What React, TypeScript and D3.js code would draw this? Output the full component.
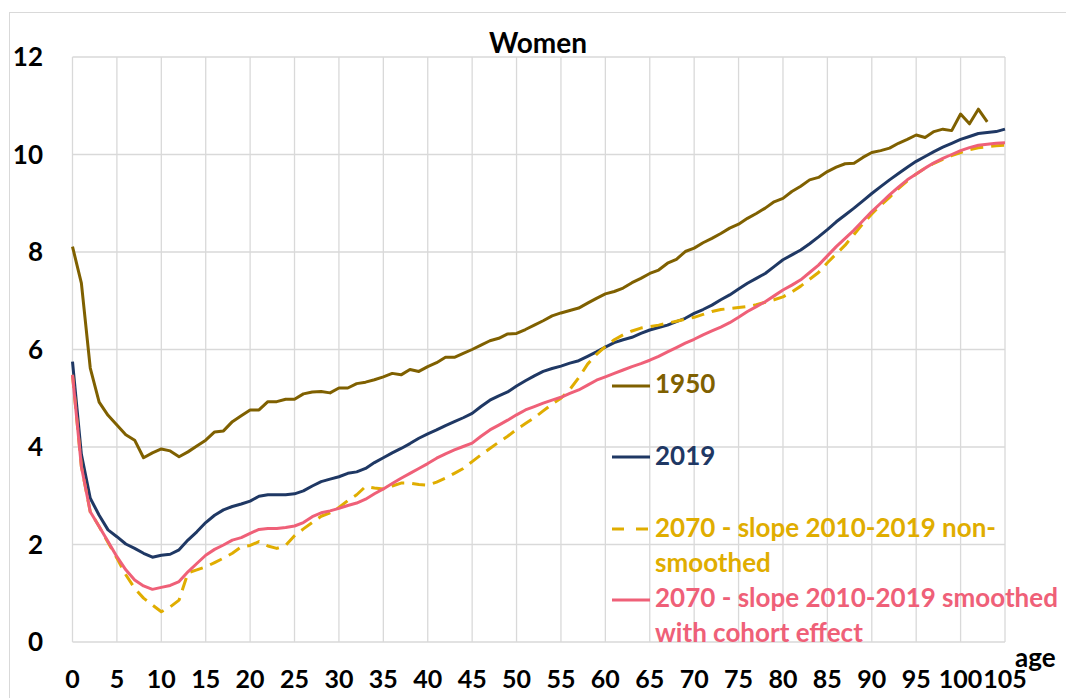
import * as d3 from "d3";

// ages 0..105
const ages = d3.range(0, 106);

const y1950 = [
  8.11, 7.36, 5.62, 4.92, 4.65, 4.45, 4.25, 4.14, 3.78, 3.88, 3.96, 3.92, 3.8, 3.9, 4.02, 4.14, 4.31, 4.33, 4.52, 4.64,
  4.76, 4.76, 4.93, 4.93, 4.98, 4.98, 5.09, 5.13, 5.14, 5.11, 5.21, 5.21, 5.3, 5.33, 5.38, 5.44, 5.51, 5.48, 5.59, 5.55,
  5.65, 5.73, 5.84, 5.84, 5.92, 6.0, 6.09, 6.18, 6.23, 6.32, 6.33, 6.41, 6.5, 6.59, 6.69, 6.75, 6.8, 6.85, 6.95, 7.05,
  7.14, 7.19, 7.26, 7.37, 7.46, 7.56, 7.63, 7.77, 7.85, 8.01, 8.08, 8.19, 8.28, 8.38, 8.49, 8.57, 8.69, 8.79, 8.9, 9.03,
  9.1, 9.24, 9.35, 9.48, 9.53, 9.65, 9.74, 9.81, 9.82, 9.94, 10.04, 10.08, 10.13, 10.23, 10.31, 10.4, 10.35, 10.47, 10.52, 10.49,
  10.83, 10.63, 10.93, 10.67,
];

const y2019 = [
  5.75, 3.85, 2.95, 2.6, 2.3, 2.16, 2.01, 1.92, 1.82, 1.74, 1.78, 1.8, 1.89, 2.09, 2.26, 2.45, 2.6, 2.71, 2.78, 2.83,
  2.89, 2.99, 3.02, 3.02, 3.02, 3.04, 3.1, 3.2, 3.29, 3.34, 3.39, 3.46, 3.49, 3.56, 3.68, 3.78, 3.88, 3.97, 4.07, 4.18,
  4.27, 4.35, 4.44, 4.52, 4.6, 4.69, 4.83, 4.96, 5.05, 5.13, 5.25, 5.36, 5.46, 5.55, 5.61, 5.66, 5.72, 5.77, 5.86, 5.95,
  6.05, 6.14, 6.2, 6.25, 6.33, 6.4, 6.45, 6.5, 6.57, 6.64, 6.74, 6.82, 6.91, 7.02, 7.12, 7.24, 7.36, 7.46, 7.56, 7.7,
  7.84, 7.94, 8.04, 8.17, 8.31, 8.46, 8.62, 8.76, 8.9, 9.05, 9.2, 9.34, 9.48, 9.61, 9.74, 9.86, 9.96, 10.06, 10.15, 10.23,
  10.31, 10.37, 10.43, 10.45, 10.47, 10.52,
];

const y2070raw = [
  5.48, 3.6, 2.67, 2.37, 2.04, 1.72, 1.38, 1.1, 0.9, 0.76, 0.62, 0.72, 0.86, 1.42, 1.48, 1.54, 1.63, 1.72, 1.82, 1.95,
  1.98, 2.06, 1.97, 1.92, 1.98, 2.18, 2.32, 2.45, 2.58, 2.65, 2.76, 2.9, 3.02, 3.19, 3.16, 3.14, 3.2, 3.26, 3.26, 3.23,
  3.22, 3.28, 3.36, 3.46, 3.56, 3.7, 3.84, 3.97, 4.1, 4.22, 4.36, 4.48, 4.6, 4.74, 4.88, 5.0, 5.18, 5.42, 5.7, 5.9,
  6.06, 6.2, 6.3, 6.38, 6.44, 6.47, 6.5, 6.54, 6.58, 6.62, 6.66, 6.72, 6.78, 6.82, 6.84, 6.86, 6.88, 6.92, 6.97, 7.02,
  7.08, 7.18, 7.3, 7.44, 7.58, 7.78, 7.96, 8.14, 8.36, 8.58, 8.78, 8.96, 9.12, 9.3, 9.46, 9.6, 9.72, 9.82, 9.9, 9.98,
  10.04, 10.1, 10.14, 10.16, 10.18, 10.19,
];

const y2070smooth = [
  5.48, 3.6, 2.67, 2.37, 2.06, 1.75, 1.48, 1.27, 1.15, 1.08, 1.12, 1.16, 1.24, 1.44, 1.61, 1.78, 1.9, 1.99, 2.09, 2.14,
  2.23, 2.31, 2.33, 2.33, 2.35, 2.38, 2.45, 2.57, 2.65, 2.69, 2.74, 2.8, 2.85, 2.93, 3.04, 3.14, 3.25, 3.36, 3.46, 3.56,
  3.66, 3.77, 3.86, 3.94, 4.01, 4.08, 4.22, 4.35, 4.45, 4.55, 4.66, 4.76, 4.83, 4.9, 4.96, 5.02, 5.1, 5.17, 5.27, 5.37,
  5.44, 5.51, 5.58, 5.65, 5.71, 5.78, 5.86, 5.95, 6.04, 6.13, 6.21, 6.3, 6.38, 6.46, 6.55, 6.66, 6.78, 6.88, 6.98, 7.1,
  7.22, 7.32, 7.43, 7.58, 7.73, 7.92, 8.11, 8.28, 8.45, 8.64, 8.83, 9.0, 9.17, 9.33, 9.48, 9.6, 9.72, 9.83, 9.92, 10.0,
  10.08, 10.14, 10.19, 10.21, 10.23, 10.24,
];

const xTicks = d3.range(0, 106, 5);
const yTicks = [0, 2, 4, 6, 8, 10, 12];

const series = [
  { name: "1950", values: y1950, color: "#7f6000", dash: null as string | null },
  { name: "2019", values: y2019, color: "#1f3864", dash: null },
  { name: "2070 raw", values: y2070raw, color: "#e0ad00", dash: "13,8" },
  { name: "2070 smooth", values: y2070smooth, color: "#ef6078", dash: null },
];

const FONT = "Lato, 'Open Sans', sans-serif";

export default function App() {
  const width = 1066;
  const height = 698;
  const x = d3.scaleLinear().domain([0, 105]).range([72.5, 1005]);
  const y = d3.scaleLinear().domain([0, 12]).range([642, 57]);

  const line = d3
    .line<number>()
    .x((_, i) => x(ages[i]))
    .y((d) => y(d));

  const legend = [
    { color: "#7f6000", dash: null as string | null, ly: 386, lines: ["1950"], base: 393 },
    { color: "#1f3864", dash: null, ly: 457, lines: ["2019"], base: 465 },
    { color: "#e0ad00", dash: "12,12", ly: 529, lines: ["2070 - slope 2010-2019 non-", "smoothed"], base: 537 },
    { color: "#ef6078", dash: null, ly: 600, lines: ["2070 - slope 2010-2019 smoothed", "with cohort effect"], base: 607 },
  ];

  return (
    <div style={{ position: "absolute", left: 0, top: 0 }}>
      <svg width={width} height={height} style={{ display: "block", background: "#fff" }}>
        <rect x={9.5} y={12.5} width={1070} height={700} fill="#fff" stroke="#d9d9d9" />

        {/* grid */}
        <g stroke="#d9d9d9" strokeWidth={1.3}>
          {xTicks.map((t) => (
            <line key={"gx" + t} x1={x(t)} x2={x(t)} y1={y(12)} y2={y(0)} />
          ))}
          {yTicks.map((t) => (
            <line key={"gy" + t} x1={x(0)} x2={x(105)} y1={y(t)} y2={y(t)} />
          ))}
        </g>

        {/* title */}
        <text x={538} y={53} textAnchor="middle" fontFamily={FONT} fontWeight={700} fontSize={28} fill="#000">
          Women
        </text>

        {/* y axis labels */}
        {yTicks.map((t) => (
          <text key={"yl" + t} x={43} y={y(t) + 9} textAnchor="end" fontFamily={FONT} fontWeight={700} fontSize={26} fill="#000">
            {t}
          </text>
        ))}

        {/* x axis labels */}
        {xTicks.map((t) => (
          <text key={"xl" + t} x={x(t)} y={688} textAnchor="middle" fontFamily={FONT} fontWeight={700} fontSize={25} fill="#000">
            {t}
          </text>
        ))}
        <text x={1015} y={667} fontFamily={FONT} fontWeight={700} fontSize={26} fill="#000">
          age
        </text>

        {/* series */}
        {series.map((s) => (
          <path
            key={s.name}
            d={line(s.values) || ""}
            fill="none"
            stroke={s.color}
            strokeWidth={3}
            strokeDasharray={s.dash || undefined}
            strokeLinejoin="round"
          />
        ))}

        {/* legend */}
        {legend.map((l, i) => (
          <g key={"lg" + i}>
            <line x1={612} x2={650} y1={l.ly} y2={l.ly} stroke={l.color} strokeWidth={3} strokeDasharray={l.dash || undefined} />
            {l.lines.map((t, j) => (
              <text key={j} x={655} y={l.base + j * 35} fontFamily={FONT} fontWeight={700} fontSize={26} fill={l.color}>
                {t}
              </text>
            ))}
          </g>
        ))}
      </svg>
    </div>
  );
}
